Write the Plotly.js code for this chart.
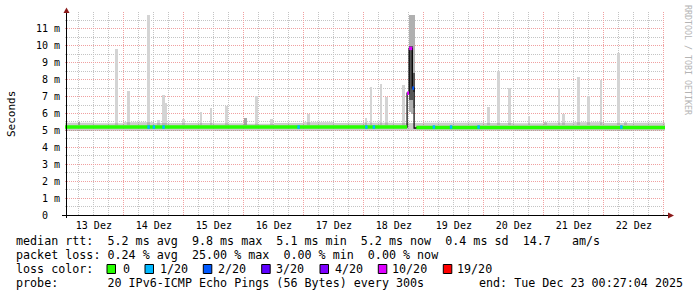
<!DOCTYPE html>
<html><head><meta charset="utf-8">
<script src="https://cdn.plot.ly/plotly-3.0.1.min.js"></script>
<style>html,body{margin:0;padding:0;background:#fff}#chart{width:697px;height:297px}</style>
</head><body><div id="chart"></div>
<script>
// ---------------- data ----------------
const rangeStart = '2025-12-13 00:27:04';
const rangeEnd = '2025-12-23 00:27:04';

const yTickVals = [0, 1, 2, 3, 4, 5, 6, 7, 8, 9, 10, 11];
const yTickLabels = ['0\u00a0\u00a0', '1 m', '2 m', '3 m', '4 m', '5 m', '6 m', '7 m', '8 m', '9 m', '10 m', '11 m'];

// baseline smoke band (ms)
const bandTimes = ['2025-12-13 00:27:04', '2025-12-13 12:00', '2025-12-14 00:00', '2025-12-14 12:00', '2025-12-15 00:00',
  '2025-12-15 12:00', '2025-12-16 00:00', '2025-12-16 12:00', '2025-12-17 00:00', '2025-12-17 12:00',
  '2025-12-18 00:00', '2025-12-18 12:00', '2025-12-19 00:00', '2025-12-19 12:00', '2025-12-20 00:00',
  '2025-12-20 12:00', '2025-12-21 00:00', '2025-12-21 12:00', '2025-12-22 00:00', '2025-12-22 12:00', '2025-12-23 00:27:04'];
const bandLow = [4.97, 4.98, 4.97, 4.96, 4.98, 4.97, 4.98, 4.97, 4.97, 4.98, 4.97, 4.98, 4.96, 4.97, 4.98, 4.97, 4.97, 4.98, 4.97, 4.98, 4.97];
const bandHigh = [5.45, 5.42, 5.48, 5.44, 5.44, 5.42, 5.40, 5.44, 5.48, 5.44, 5.46, 5.44, 5.46, 5.46, 5.44, 5.42, 5.46, 5.48, 5.44, 5.46, 5.46];

// isolated outlier smoke columns (ms)
const spikeTimes = ['2025-12-13 20:55', '2025-12-14 01:53', '2025-12-14 09:53', '2025-12-14 13:53', '2025-12-14 15:53',
  '2025-12-14 16:41', '2025-12-14 23:53', '2025-12-15 06:48', '2025-12-15 10:48', '2025-12-15 16:55',
  '2025-12-16 04:55', '2025-12-16 10:55', '2025-12-17 01:43', '2025-12-18 00:48', '2025-12-18 02:48',
  '2025-12-18 06:48', '2025-12-18 08:55', '2025-12-18 15:53', '2025-12-20 01:43', '2025-12-20 05:53',
  '2025-12-20 10:07', '2025-12-20 18:00', '2025-12-21 00:41', '2025-12-21 06:00', '2025-12-21 07:53',
  '2025-12-21 13:53', '2025-12-21 17:53', '2025-12-21 22:48', '2025-12-22 05:53', '2025-12-22 08:41'];
const spikeLow = [5.3, 5.3, 5.3, 5.3, 5.3, 5.3, 5.3, 5.3, 5.3, 5.3, 5.3, 5.3, 5.3, 5.3, 5.3,
  5.3, 5.3, 5.3, 5.3, 5.3, 5.3, 5.3, 5.3, 5.3, 5.3, 5.3, 5.3, 5.3, 5.3, 5.3];
const spikeHigh = [9.82, 7.34, 11.83, 5.62, 7.10, 6.64, 5.65, 6.09, 6.35, 6.47, 7.02, 5.70, 6.00, 5.76, 7.55,
  7.75, 7.00, 7.69, 6.40, 8.52, 7.51, 5.88, 5.50, 7.53, 6.00, 8.17, 7.02, 8.00, 9.59, 5.50];

// small darker smoke bumps (ms)
const darkTimes = ['2025-12-13 06:00', '2025-12-16 00:41'];
const darkLow = [5.3, 5.3];
const darkHigh = [5.52, 5.74];

// Dec 18 event smoke (ms)
const eventTimes = ['2025-12-18 18:17', '2025-12-18 19:05', '2025-12-18 19:53'];
const eventOuterLow = [6.1, 6.0, 6.3];
const eventOuterHigh = [11.83, 11.83, 11.83];
const eventInnerLow = [6.8, 6.8, 7.3];
const eventInnerHigh = [10.0, 10.0, 8.4];

// median rtt step points (ms) and packet loss (x/20) per step
const medianTimes = ['2025-12-13 00:27:04', '2025-12-18 17:17', '2025-12-18 18:05', '2025-12-18 19:22',
  '2025-12-18 20:05', '2025-12-18 20:58', '2025-12-23 00:27:04'];
const medianValues = [5.2, 7.2, 9.85, 7.5, 5.13, 5.17, 5.2];
const medianLoss = [0, 10, 10, 2, null, 0, 0];

// isolated 1/20 loss samples
const lossEventTimes = ['2025-12-14 09:53', '2025-12-14 12:00', '2025-12-14 15:53', '2025-12-16 21:53', '2025-12-18 01:00',
  '2025-12-18 04:00', '2025-12-19 04:00', '2025-12-19 10:53', '2025-12-19 21:53', '2025-12-22 07:00'];
const lossEventCounts = [1, 1, 1, 1, 1, 1, 1, 1, 1, 1];
const lossEventValues = [5.2, 5.2, 5.2, 5.2, 5.2, 5.2, 5.2, 5.2, 5.2, 5.2];

// legend
const lossLevels = [0, 1, 2, 3, 4, 10, 19];
const lossLabels = ['0', '1/20', '2/20', '3/20', '4/20', '10/20', '19/20'];
const statLine1 = 'median rtt:  5.2 ms avg  9.8 ms max  5.1 ms min  5.2 ms now  0.4 ms sd  14.7   am/s';
const statLine2 = 'packet loss: 0.24 % avg  25.00 % max  0.00 % min  0.00 % now';
const statLine3 = 'loss color:';
const statLine4 = 'probe:       20 IPv6-ICMP Echo Pings (56 Bytes) every 300s';
const endLabel = 'end: Tue Dec 23 00:27:04 2025';

// ---------------- styles ----------------
const lossColor = {0: '#26ff00', 1: '#00b8ff', 2: '#0059ff', 3: '#5e00ff', 4: '#7e00ff', 10: '#dd00ff', 19: '#ff0000'};
const MONO = 'DejaVu Sans Mono';
const W = 697, H = 297;
const M = {l: 65, r: 32, t: 12, b: 82};
const PW = W - M.l - M.r, PH = H - M.t - M.b;
const px = x => (x - M.l) / PW;
const py = y => (H - M.b - y) / PH;
const nb = s => s.replace(/ /g, '\u00a0');
const MIN = 60000;
const shiftT = (t, m) => {
  const d = new Date(t.replace(' ', 'T') + 'Z');
  return new Date(d.getTime() + m * MIN).toISOString().replace('T', ' ').replace('Z', '').slice(0, 19);
};

const traces = [];
// band
traces.push({x: bandTimes, y: bandLow, type: 'scatter', mode: 'lines', line: {width: 0, shape: 'hv'}, hoverinfo: 'skip'});
traces.push({x: bandTimes, y: bandHigh, type: 'scatter', mode: 'lines', line: {width: 0, shape: 'hv'},
  fill: 'tonexty', fillcolor: 'rgba(140,140,140,0.45)', hoverinfo: 'skip'});
// spikes
const BARW = 66 * MIN;
traces.push({x: spikeTimes, base: spikeLow, y: spikeHigh.map((v, i) => v - spikeLow[i]), type: 'bar',
  width: BARW, marker: {color: '#d4d4d4', line: {width: 0}}});
traces.push({x: darkTimes, base: darkLow, y: darkHigh.map((v, i) => v - darkLow[i]), type: 'bar',
  width: BARW, marker: {color: '#a8a8a8', line: {width: 0}}});
traces.push({x: eventTimes, base: eventOuterLow, y: eventOuterHigh.map((v, i) => v - eventOuterLow[i]), type: 'bar',
  width: 50 * MIN, marker: {color: '#b0b0b0', line: {width: 0}}});
traces.push({x: eventTimes, base: eventInnerLow, y: eventInnerHigh.map((v, i) => v - eventInnerLow[i]), type: 'bar',
  width: 50 * MIN, marker: {color: '#555555', line: {width: 0}}});
// black median connector
traces.push({x: medianTimes, y: medianValues, type: 'scatter', mode: 'lines',
  line: {color: '#000', width: 1.2, shape: 'hv'}, hoverinfo: 'skip'});
// loss coloured median segments
const segs = {};
for (let i = 0; i < medianTimes.length - 1; i++) {
  const l = medianLoss[i];
  if (l === null) continue;
  (segs[l] = segs[l] || {x: [], y: []});
  segs[l].x.push(medianTimes[i], medianTimes[i + 1], null);
  segs[l].y.push(medianValues[i], medianValues[i], null);
}
for (let i = 0; i < lossEventTimes.length; i++) {
  const l = lossEventCounts[i];
  (segs[l] = segs[l] || {x: [], y: []});
  segs[l].x.push(shiftT(lossEventTimes[i], -30), shiftT(lossEventTimes[i], 30), null);
  segs[l].y.push(lossEventValues[i], lossEventValues[i], null);
}
Object.keys(segs).map(Number).sort((a, b) => a - b).forEach(l => {
  traces.push({x: segs[l].x, y: segs[l].y, type: 'scatter', mode: 'lines', connectgaps: false,
    line: {color: lossColor[l], width: 3.5}, hoverinfo: 'skip'});
});

// ---------------- annotations & shapes ----------------
const ann = [];
const txt = (x, y, s, opts = {}) => ann.push(Object.assign({
  xref: 'paper', yref: 'paper', x: px(x), y: py(y), text: nb(s), showarrow: false,
  xanchor: 'left', yanchor: 'middle', borderpad: 0, borderwidth: 0,
  font: {family: MONO, size: 11.7, color: '#000'}}, opts));
txt(16, 241, statLine1);
txt(16, 255, statLine2);
txt(16, 269, statLine3);
txt(16, 283, statLine4);
txt(478.5, 283, endLabel);
const swX = [107, 145, 203.3, 261.7, 320, 378.3, 443.3];
const labX = [123, 160.3, 218, 276.3, 334.7, 392.3, 457.3];
const shapes = [];
lossLevels.forEach((l, i) => {
  shapes.push({type: 'rect', xref: 'paper', yref: 'paper', x0: px(swX[i]), x1: px(swX[i] + 8.5),
    y0: py(264.5), y1: py(273.5), fillcolor: lossColor[l], line: {color: '#000', width: 1}});
  txt(labX[i], 269, lossLabels[i]);
});
txt(11, 114, 'Seconds', {xanchor: 'center', textangle: -90, font: {family: MONO, size: 11, color: '#000'}});
txt(688, 60, 'RRDTOOL / TOBI OETIKER', {xanchor: 'center', textangle: 90, font: {family: MONO, size: 8.3, color: '#b4b4b4'}});

// axis lines + arrows
shapes.push({type: 'line', xref: 'paper', yref: 'paper', x0: px(62), x1: px(668), y0: py(215.5), y1: py(215.5), line: {color: '#000', width: 1}});
shapes.push({type: 'line', xref: 'paper', yref: 'paper', x0: px(66.5), x1: px(66.5), y0: py(218), y1: py(12), line: {color: '#000', width: 1}});
const path = pts => 'M' + pts.map(p => px(p[0]) + ',' + py(p[1])).join(' L') + ' Z';
shapes.push({type: 'path', xref: 'paper', yref: 'paper', path: path([[668, 212.5], [674, 215.5], [668, 218.5]]), fillcolor: '#8b1a1a', line: {width: 0}});
shapes.push({type: 'path', xref: 'paper', yref: 'paper', path: path([[63.5, 13], [66.5, 7.5], [69.5, 13]]), fillcolor: '#8b1a1a', line: {width: 0}});

const gridMajor = '#f0a0a0', gridMinor = '#c4c4c4';
const layout = {
  width: W, height: H, margin: M, showlegend: false, barmode: 'overlay', bargap: 0,
  paper_bgcolor: '#fff', plot_bgcolor: '#fff',
  xaxis: {type: 'date', range: [rangeStart, rangeEnd], tick0: '2025-12-13', dtick: 86400000,
    ticklabelmode: 'period', tickformat: '%d Dez', ticks: '', showline: false, zeroline: false,
    showgrid: true, gridcolor: gridMajor, griddash: '1px,1px', gridwidth: 1,
    minor: {dtick: 21600000, tick0: '2025-12-13', showgrid: true, gridcolor: gridMinor, griddash: '1px,1px', gridwidth: 1},
    tickfont: {family: MONO, size: 10, color: '#000'}, ticklabelstandoff: 3, fixedrange: true},
  yaxis: {range: [0, 12], tickmode: 'array', tickvals: yTickVals, ticktext: yTickLabels, ticks: '',
    showline: false, zeroline: false, showgrid: true, gridcolor: gridMajor, griddash: '1px,1px', gridwidth: 1,
    minor: {dtick: 0.5, tick0: 0, showgrid: true, gridcolor: gridMinor, griddash: '1px,1px', gridwidth: 1},
    tickfont: {family: MONO, size: 10, color: '#000'}, ticklabelstandoff: 4, fixedrange: true},
  annotations: ann, shapes: shapes
};
Plotly.newPlot('chart', traces, layout, {staticPlot: true, displayModeBar: false});
</script></body></html>
